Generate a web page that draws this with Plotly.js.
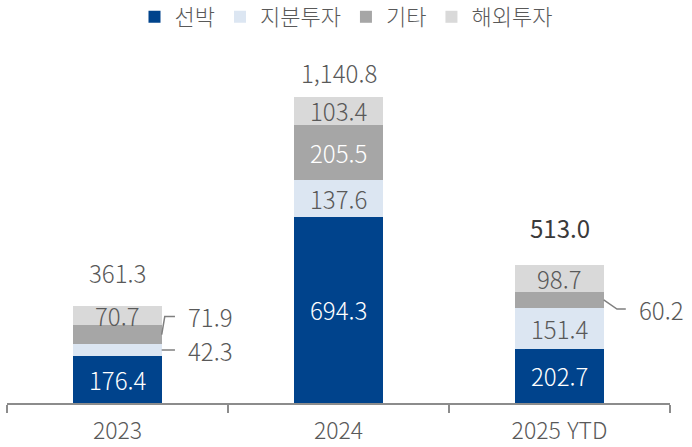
<!DOCTYPE html>
<html lang="ko">
<head>
<meta charset="UTF-8">
<title>chart</title>
<script src="https://cdn.plot.ly/plotly-3.0.1.min.js"></script>
<style>
  html, body { margin: 0; padding: 0; background: #fff; }
  #chart { width: 692px; height: 447px; }
</style>
</head>
<body>
<div id="chart"></div>
<script>
const years = ['2023', '2024', '2025 YTD'];
const seriesNames = ['선박', '지분투자', '기타', '해외투자'];
const ship = [176.4, 694.3, 202.7];
const equity = [42.3, 137.6, 151.4];
const other = [71.9, 205.5, 60.2];
const overseas = [70.7, 103.4, 98.7];
const totals = [361.3, 1140.8, 513.0];
const totalLabels = ['361.3', '1,140.8', '513.0'];

const colors = ['#00438C', '#DCE6F2', '#A6A6A6', '#D9D9D9'];
const labelColors = ['#ffffff', '#595959', '#ffffff', '#595959'];
const font = '"Noto Sans CJK KR", "Noto Sans", sans-serif';
const values = [ship, equity, other, overseas];

const traces = values.map((v, k) => ({
  type: 'bar',
  name: seriesNames[k],
  x: years,
  y: v,
  marker: { color: colors[k] },
  hoverinfo: 'none'
}));

const annotations = [];
const shapes = [];
const barHalf = 0.2;

years.forEach((yr, i) => {
  let base = 0;
  values.forEach((v, k) => {
    const mid = base + v[i] / 2;
    const small = v[i] * 0.268 < 20 && k !== 3;
    if (!small) {
      annotations.push({
        x: i, y: mid, xref: 'x', yref: 'y', text: v[i].toFixed(1),
        showarrow: false,
        font: { family: font, size: 24, weight: 300, color: (k === 2 && i !== 1) ? '#595959' : labelColors[k] }
      });
    } else {
      // leader line out to the right
      const up = k === 2 && i === 0;
      const lblY = up ? mid + 68 : (k === 2 ? mid - 34 : mid);
      const x0 = i + barHalf;
      const x1 = x0 + (up ? 0.014 : (k === 2 ? 0.06 : 0));
      const x2 = x0 + (k === 2 && i === 2 ? 0.1 : 0.06);
      shapes.push({
        type: 'path', xref: 'x', yref: 'y',
        path: `M ${x0} ${mid} L ${x1} ${lblY} L ${x2} ${lblY}`,
        line: { color: '#7f7f7f', width: 1.5 }
      });
      annotations.push({
        x: x2 + 0.05, y: lblY, xref: 'x', yref: 'y', text: v[i].toFixed(1),
        xanchor: 'left', showarrow: false,
        font: { family: font, size: 24, weight: 300, color: '#595959' }
      });
    }
    base += v[i];
  });
});

const totalShift = [34, 24, 38];
totals.forEach((t, i) => {
  annotations.push({
    x: i, y: t, xref: 'x', yref: 'y', text: totalLabels[i],
    showarrow: false, yshift: totalShift[i],
    font: { family: font, size: 24, weight: i === 2 ? 400 : 300, color: i === 2 ? '#3a3a3a' : '#595959' }
  });
});

const layout = {
  width: 692,
  height: 447,
  barmode: 'stack',
  bargap: 0.6,
  margin: { l: 7, r: 22, t: 40, b: 44, autoexpand: false },
  paper_bgcolor: '#ffffff',
  plot_bgcolor: '#ffffff',
  font: { family: font, color: '#595959' },
  showlegend: true,
  legend: {
    orientation: 'h', x: 0.5, xref: 'container', xanchor: 'center',
    y: 0.962, yref: 'container', yanchor: 'middle',
    font: { family: font, size: 22, weight: 300, color: '#595959' },
    itemwidth: 30, traceorder: 'normal'
  },
  xaxis: {
    type: 'category',
    range: [-0.5, 2.5],
    showline: true, linecolor: '#8c8c8c', linewidth: 1.5,
    ticks: 'outside', tickson: 'boundaries', ticklen: 8, tickcolor: '#8c8c8c', tickwidth: 1.5,
    ticklabelstandoff: 7,
    tickfont: { family: font, size: 23, weight: 300, color: '#595959' },
    showgrid: false, zeroline: false
  },
  yaxis: {
    range: [0, 1353],
    visible: false, showgrid: false, zeroline: false
  },
  annotations: annotations,
  shapes: shapes
};

Plotly.newPlot('chart', traces, layout, { displayModeBar: false, staticPlot: true });
</script>
</body>
</html>
